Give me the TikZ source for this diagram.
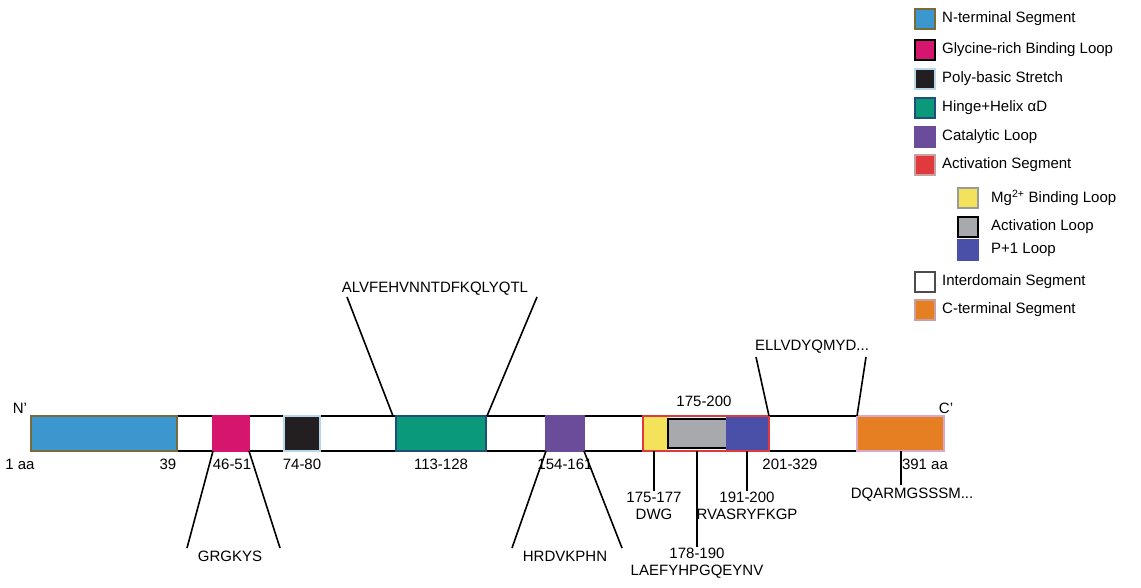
\documentclass[tikz,border=0pt]{standalone}
\usepackage{fontspec}
\setmainfont{Liberation Sans}
\definecolor{nblue}{HTML}{3D97CF}\definecolor{nbord}{HTML}{7A6A3A}
\definecolor{gly}{HTML}{D6156E}\definecolor{poly}{HTML}{231F20}\definecolor{polyb}{HTML}{B9D7EA}
\definecolor{hinge}{HTML}{0A9A7B}\definecolor{hingeb}{HTML}{1F4E79}
\definecolor{cat}{HTML}{6B4C9A}\definecolor{actr}{HTML}{E03A3E}\definecolor{actb}{HTML}{C9A0A0}
\definecolor{mg}{HTML}{F4E25A}\definecolor{mgb}{HTML}{9A9A9A}\definecolor{agray}{HTML}{A7A9AC}
\definecolor{pone}{HTML}{4A4FA8}\definecolor{cterm}{HTML}{E67E22}\definecolor{ctermb}{HTML}{D8A8C8}
\begin{document}
\begin{tikzpicture}[x=1pt,y=-1pt,
  lbl/.style={font=\fontsize{15}{17}\selectfont,inner sep=1pt},
  blk/.style={line width=1.5pt},
  leg/.style={minimum size=20pt,inner sep=0pt,line width=1.5pt},
  ln/.style={line width=1.6pt}]
\useasboundingbox (0,0) rectangle (1141,587);
% bar lines
\draw[ln] (31,416) -- (944,416);
\draw[ln] (31,451) -- (944,451);
% blocks
\draw[blk,fill=nblue,draw=nbord] (31,416) rectangle (177,451);
\draw[blk,fill=gly,draw=gly] (213,416) rectangle (249,451);
\draw[blk,fill=poly,draw=polyb] (284,416) rectangle (320,451);
\draw[blk,fill=hinge,draw=hingeb] (396,416) rectangle (486,451);
\draw[blk,fill=cat,draw=cat] (546,416) rectangle (584,451);
\draw[blk,fill=mg,draw=mg] (644,417) rectangle (668,450);
\draw[blk,fill=agray,draw=black] (668,419) rectangle (727,448);
\draw[blk,fill=pone,draw=pone] (727,417) rectangle (769,450);
\draw[blk,draw=actr] (643,416) rectangle (769,451);
\draw[blk,fill=cterm,draw=ctermb] (857,416) rectangle (944,451);
% coordinates
\coordinate (h1) at (393,416); \coordinate (h2) at (487,416);
\coordinate (e1) at (769,416); \coordinate (e2) at (857,416);
\coordinate (g1) at (213,451); \coordinate (g2) at (249,451);
\coordinate (c1) at (546,451); \coordinate (c2) at (584,451);
\coordinate (m1) at (654,451); \coordinate (a1) at (697,451);
\coordinate (p1) at (747,451); \coordinate (d1) at (901,451);
% top labels
\node[lbl] (alv) at (435,289) {ALVFEHVNNTDFKQLYQTL};
\coordinate (alvl) at (347,297); \coordinate (alvr) at (537,297);
\draw[ln] (alvl) -- (h1); \draw[ln] (alvr) -- (h2);
\node[lbl] (ell) at (812,347) {ELLVDYQMYD...};
\coordinate (elll) at (756,357); \coordinate (ellr) at (866,357);
\draw[ln] (elll) -- (e1); \draw[ln] (ellr) -- (e2);
% bottom
\node[lbl] (grg) at (230,556) {GRGKYS};
\coordinate (grgl) at (187,548); \coordinate (grgr) at (280,548);
\draw[ln] (g1) -- (grgl); \draw[ln] (g2) -- (grgr);
\node[lbl] (hrd) at (565,556) {HRDVKPHN};
\coordinate (hrdl) at (512,548); \coordinate (hrdr) at (622,548);
\draw[ln] (c1) -- (hrdl); \draw[ln] (c2) -- (hrdr);
\node[lbl,align=center,anchor=north] (dwg) at (654,491) {175-177\\DWG};
\draw[ln] (m1) -- (dwg.north);
\node[lbl,align=center,anchor=north] (lae) at (697,547) {178-190\\LAEFYHPGQEYNV};
\draw[ln] (a1) -- (lae.north);
\node[lbl,align=center,anchor=north] (rva) at (747,491) {191-200\\RVASRYFKGP};
\draw[ln] (p1) -- (rva.north);
\node[lbl,anchor=north] (dqa) at (912,487) {DQARMGSSSM...};
\draw[ln] (d1) -- (901,485);
% number labels
\node[lbl] (n1) at (20,464) {1 aa};
\node[lbl] (n39) at (168,464) {39};
\node[lbl] (n46) at (232,464) {46-51};
\node[lbl] (n74) at (302,464) {74-80};
\node[lbl] (n113) at (441,464) {113-128};
\node[lbl] (n154) at (565,464) {154-161};
\node[lbl] (n201) at (790,464) {201-329};
\node[lbl] (n391) at (925,464) {391 aa};
\node[lbl] (n175) at (704,401) {175-200};
\node[lbl] (nN) at (20,408) {N'};
\node[lbl] (nC) at (946,408) {C'};
% legend
\foreach \y/\f/\d/\t in {19/nblue/nbord/N-terminal Segment, 50/gly/black/Glycine-rich Binding Loop, 79/poly/polyb/Poly-basic Stretch, 108/hinge/hingeb/Hinge+Helix αD, 137/cat/cat/Catalytic Loop, 165/actr/actb/Activation Segment, 282/white/black!70/Interdomain Segment, 310/cterm/actb/C-terminal Segment}{
  \node[leg,fill=\f,draw=\d] at (925,\y) {};
  \node[lbl,anchor=west] at (941,\y) {\t};
}
\foreach \y/\f/\d/\t in {198/mg/mgb/Mg\textsuperscript{2+} Binding Loop, 227/agray/black/Activation Loop, 250/pone/pone/P+1 Loop}{
  \node[leg,fill=\f,draw=\d] at (968,\y) {};
  \node[lbl,anchor=west] at (990,\y) {\t};
}
\end{tikzpicture}
\end{document}
